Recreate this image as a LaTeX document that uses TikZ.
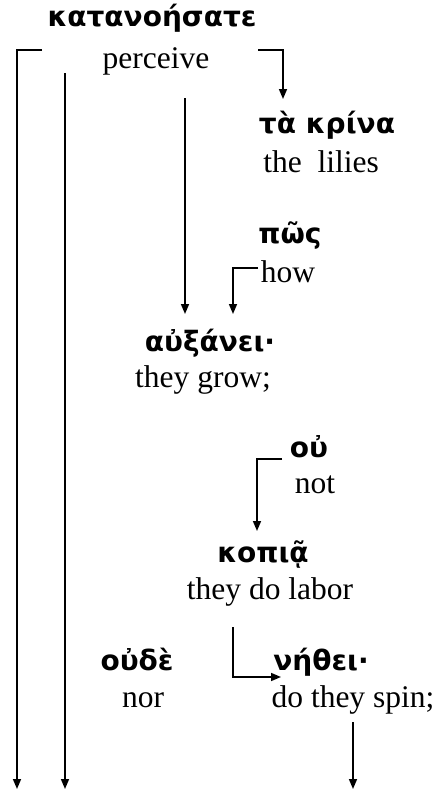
\documentclass[tikz,border=0pt]{standalone}
\usepackage{fontspec}
\setmainfont{Liberation Serif}
\newfontfamily\gkfont{DejaVu Sans}
\usetikzlibrary{arrows.meta}
\begin{document}
\begin{tikzpicture}[x=1pt,y=-1pt,
  gk/.style={font=\gkfont\bfseries\fontsize{28}{28}\selectfont, inner sep=0pt, anchor=base},
  en/.style={font=\fontsize{31.5}{31.5}\selectfont, inner sep=0pt, anchor=base},
  link/.style={line width=1.6pt, -{Triangle[length=10pt,width=8pt]}}]
\useasboundingbox (0,0) rectangle (440,790);
% words: Greek over English gloss
\node[gk] (g1) at (152,26) {κατανοήσατε};
\node[en] (e1) at (156,68) {perceive};
\node[gk] (g2) at (327,133) {τὰ κρίνα};
\node[en] (e2) at (321,172) {the\ \ lilies};
\node[gk] (g3) at (290,243) {πῶς};
\node[en] (e3) at (288,282) {how};
\node[gk] (g4) at (210,351) {αὐξάνει·};
\node[en] (e4) at (203,387) {they grow;};
\node[gk] (g5) at (309,457) {οὐ};
\node[en] (e5) at (315,493) {not};
\node[gk] (g6) at (263,562) {κοπιᾷ};
\node[en] (e6) at (270,599) {they do labor};
\node[gk] (g7) at (137,670) {οὐδὲ};
\node[en] (e7) at (143,707) {nor};
\node[gk] (g8) at (321,670) {νήθει·};
\node[en] (e8) at (353,707) {do they spin;};
% connector end points
\coordinate (a1) at (42,50);  \coordinate (a2) at (17,50);  \coordinate (a3) at (17,789);
\coordinate (b1) at (65,73);  \coordinate (b2) at (65,789);
\coordinate (c1) at (185,98); \coordinate (c2) at (185,314);
\coordinate (d1) at (258,50); \coordinate (d2) at (283,50); \coordinate (d3) at (283,99);
\coordinate (h1) at (258,268); \coordinate (h2) at (233,268); \coordinate (h3) at (233,314);
\coordinate (n1) at (282,459); \coordinate (n2) at (257,459); \coordinate (n3) at (257,531);
\coordinate (l1) at (233,627); \coordinate (l2) at (233,677); \coordinate (l3) at (281,677);
\coordinate (s1) at (353,722); \coordinate (s2) at (353,789);
% connectors
\draw[link] (a1) -- (a2) -- (a3);
\draw[link] (b1) -- (b2);
\draw[link] (c1) -- (c2);
\draw[link] (d1) -- (d2) -- (d3);
\draw[link] (h1) -- (h2) -- (h3);
\draw[link] (n1) -- (n2) -- (n3);
\draw[link] (l1) -- (l2) -- (l3);
\draw[link] (s1) -- (s2);
\end{tikzpicture}
\end{document}
